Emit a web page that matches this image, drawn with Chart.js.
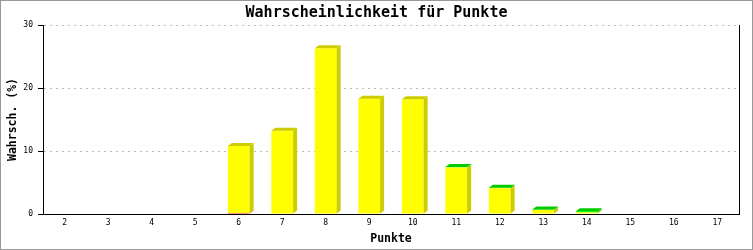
<!DOCTYPE html>
<html>
<head>
<meta charset="utf-8">
<script src="https://cdn.jsdelivr.net/npm/chart.js@4/dist/chart.umd.min.js"></script>
<style>
  body { margin: 0; background: #fff; }
  #wrap { width: 753px; height: 250px; }
</style>
</head>
<body>
<div id="wrap"><canvas id="myChart" width="753" height="250"></canvas></div>
<script>
// data
var punkte = ['2','3','4','5','6','7','8','9','10','11','12','13','14','15','16','17'];
var rot   = [0,0,0,0,0.15,0,0,0,0,0,0,0,0,0,0,0];
var gelb  = [0,0,0,0,10.65,13.2,26.3,18.3,18.2,7.4,4.1,0.65,0.25,0,0,0];
var gruen = [0,0,0,0,0,0,0,0,0,0.08,0.08,0.08,0.2,0,0,0];
var yTicks = [0, 10, 20, 30];

var titel = 'Wahrscheinlichkeit für Punkte';
var xTitel = 'Punkte';
var yTitel = 'Wahrsch. (%)';

var mono = '"DejaVu Sans Mono", monospace';

// front colours + darker side/top colours
var farben = [
  { front: '#ff0000', dunkel: '#cc0000' },
  { front: '#ffff00', dunkel: '#cccc00' },
  { front: '#00ff00', dunkel: '#00cc00' }
];

var depthX = 4, depthY = 3;

// draws the 3d side and top faces, the frame and the texts
var extras = {
  id: 'extras',
  afterDatasetsDraw: function (chart) {
    var ctx = chart.ctx;
    var n = punkte.length;
    for (var i = 0; i < n; i++) {
      var topSet = -1;
      var topY = null;
      for (var d = 0; d < chart.data.datasets.length; d++) {
        if (chart.data.datasets[d].data[i] <= 0) continue;
        var bar = chart.getDatasetMeta(d).data[i];
        var left = bar.x - bar.width / 2;
        var right = bar.x + bar.width / 2;
        // side face of this segment
        ctx.fillStyle = farben[d].dunkel;
        ctx.beginPath();
        ctx.moveTo(right, bar.y);
        ctx.lineTo(right + depthX, bar.y - depthY);
        ctx.lineTo(right + depthX, bar.base - depthY);
        ctx.lineTo(right, bar.base);
        ctx.closePath();
        ctx.fill();
        topSet = d;
        topY = bar;
      }
      if (topSet >= 0) {
        var b = topY;
        var l = b.x - b.width / 2;
        var r = b.x + b.width / 2;
        ctx.fillStyle = farben[topSet].dunkel;
        ctx.beginPath();
        ctx.moveTo(l, b.y);
        ctx.lineTo(l + depthX, b.y - depthY);
        ctx.lineTo(r + depthX, b.y - depthY);
        ctx.lineTo(r, b.y);
        ctx.closePath();
        ctx.fill();
      }
    }
  },
  afterDraw: function (chart) {
    var ctx = chart.ctx;
    var area = chart.chartArea;
    ctx.save();
    // right border of plot
    ctx.strokeStyle = '#000';
    ctx.lineWidth = 1;
    ctx.beginPath();
    ctx.moveTo(Math.round(area.right) + 0.5, area.top);
    ctx.lineTo(Math.round(area.right) + 0.5, area.bottom + 1);
    ctx.stroke();
    // x axis line again on top of the bars
    ctx.beginPath();
    ctx.moveTo(area.left, Math.round(area.bottom) + 0.5);
    ctx.lineTo(area.right + 1, Math.round(area.bottom) + 0.5);
    ctx.stroke();
    // outer frame
    ctx.strokeStyle = '#999';
    ctx.strokeRect(0.5, 0.5, chart.width - 1, chart.height - 1);
    // texts
    ctx.fillStyle = '#000';
    ctx.textAlign = 'center';
    ctx.textBaseline = 'middle';
    ctx.font = 'bold 15px ' + mono;
    ctx.fillText(titel, chart.width / 2, 13);
    ctx.font = 'bold 11.5px ' + mono;
    ctx.fillText(xTitel, (area.left + area.right) / 2, 239);
    ctx.translate(13, (area.top + area.bottom) / 2);
    ctx.rotate(-Math.PI / 2);
    ctx.fillText(yTitel, 0, 0);
    ctx.restore();
  }
};

var ctx = document.getElementById('myChart');
var myChart = new Chart(ctx, {
  type: 'bar',
  data: {
    labels: punkte,
    datasets: [
      { label: 'rot', data: rot, backgroundColor: farben[0].front },
      { label: 'gelb', data: gelb, backgroundColor: farben[1].front },
      { label: 'gruen', data: gruen, backgroundColor: farben[2].front }
    ]
  },
  options: {
    responsive: false,
    animation: false,
    layout: { padding: { top: 25, right: 14, left: 0, bottom: 0 } },
    plugins: {
      legend: { display: false },
      title: { display: false },
      tooltip: { enabled: false }
    },
    datasets: {
      bar: { barPercentage: 0.5, categoryPercentage: 1, borderWidth: 0 }
    },
    scales: {
      x: {
        stacked: true,
        grid: { display: false, drawTicks: false },
        border: { display: true, color: '#000', width: 1 },
        ticks: { color: '#000', font: { family: mono, size: 8 }, padding: 4, maxRotation: 0, autoSkip: false },
        afterFit: function (scale) { scale.height = 36; }
      },
      y: {
        stacked: true,
        min: 0,
        max: 30,
        afterBuildTicks: function (scale) {
          scale.ticks = yTicks.map(function (v) { return { value: v }; });
        },
        grid: { color: '#bbbbbb', lineWidth: 1, tickColor: '#000', tickLength: 5, tickWidth: 1 },
        border: { display: true, color: '#000', width: 1, dash: [2, 4] },
        ticks: { color: '#000', font: { family: mono, size: 8 }, padding: 5 },
        afterFit: function (scale) { scale.width = 43; }
      }
    }
  },
  plugins: [extras]
});
</script>
</body>
</html>
